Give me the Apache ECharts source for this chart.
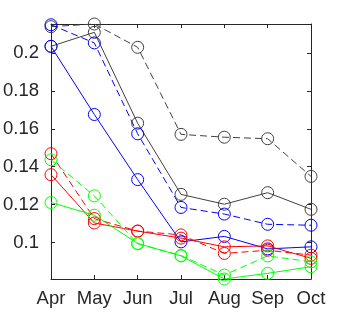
<!DOCTYPE html>
<html><head><meta charset="utf-8">
<script src="https://cdn.jsdelivr.net/npm/echarts@6/dist/echarts.min.js"></script>
<style>html,body{margin:0;padding:0;background:#fff}#c{width:344px;height:312px}</style>
</head><body><div id="c"></div>
<script>
const months = ['Apr','May','Jun','Jul','Aug','Sep','Oct'];
const yTicks = [0.1, 0.12, 0.14, 0.16, 0.18, 0.2];
const blackSolid  = [0.2036, 0.2110, 0.1630, 0.1254, 0.1202, 0.1263, 0.1175];
const blackDashed = [0.2140, 0.2154, 0.2031, 0.1571, 0.1556, 0.1548, 0.1349];
const blueSolid   = [0.2036, 0.1676, 0.1332, 0.1003, 0.1032, 0.0966, 0.0977];
const blueDashed  = [0.2150, 0.2054, 0.1574, 0.1185, 0.1150, 0.1096, 0.1091];
const redSolid    = [0.1358, 0.1103, 0.1060, 0.1023, 0.0977, 0.0982, 0.0916];
const redDashed   = [0.1469, 0.1126, 0.1060, 0.1040, 0.0942, 0.0959, 0.0933];
const greenSolid  = [0.1211, 0.1144, 0.0995, 0.0929, 0.0807, 0.0837, 0.0872];
const greenDashed = [0.1437, 0.1246, 0.0993, 0.0931, 0.0828, 0.0929, 0.0898];
const yMin = 0.0807, yMax = 0.2154;

const axisCol = '#262626';
const font = 'Liberation Sans, Arial, Helvetica, sans-serif';
function mk(data, color, dashed) {
  return {
    type: 'line', data: data, xAxisIndex: 0, yAxisIndex: 0,
    symbol: 'circle', symbolSize: 12, showSymbol: true,
    itemStyle: { color: 'rgba(0,0,0,0)', borderColor: color, borderWidth: 1 },
    lineStyle: { color: color, width: 1, type: dashed ? [7, 4] : 'solid' },
    emphasis: { disabled: true }, animation: false, clip: false, z: 2
  };
}
const chart = echarts.init(document.getElementById('c'), null, { renderer: 'canvas' });
const yBase = {
  type: 'value', min: yMin, max: yMax,
  splitLine: { show: false },
  axisLine: { show: true, lineStyle: { color: axisCol, width: 1 } },
  axisTick: { show: true, inside: true, length: 4, customValues: yTicks, lineStyle: { color: axisCol } },
};
const xBase = {
  type: 'category', data: months, boundaryGap: false,
  splitLine: { show: false },
  axisLine: { show: true, lineStyle: { color: axisCol, width: 1 } },
  axisTick: { show: true, inside: true, length: 4, alignWithLabel: true, lineStyle: { color: axisCol } },
};
chart.setOption({
  animation: false,
  grid: { left: 49, right: 33, top: 24, bottom: 33, containLabel: false },
  xAxis: [
    Object.assign({}, xBase, { position: 'bottom',
      axisLabel: { show: true, color: axisCol, fontSize: 18.5, fontFamily: font, margin: 10, interval: 0 } }),
    Object.assign({}, xBase, { position: 'top', axisLabel: { show: false } })
  ],
  yAxis: [
    Object.assign({}, yBase, { position: 'left',
      axisLabel: { show: true, customValues: yTicks, color: axisCol, fontSize: 18.5, fontFamily: font, margin: 12,
        formatter: v => String(+v.toFixed(2)) } }),
    Object.assign({}, yBase, { position: 'right', axisLabel: { show: false } })
  ],
  series: [
    mk(blackSolid, '#404040', false),
    mk(blackDashed, '#404040', true),
    mk(blueSolid, '#0000ff', false),
    mk(blueDashed, '#0000ff', true),
    mk(redSolid, '#ff0000', false),
    mk(redDashed, '#ff0000', true),
    mk(greenSolid, '#00ff00', false),
    mk(greenDashed, '#00ff00', true)
  ]
});
</script></body></html>
